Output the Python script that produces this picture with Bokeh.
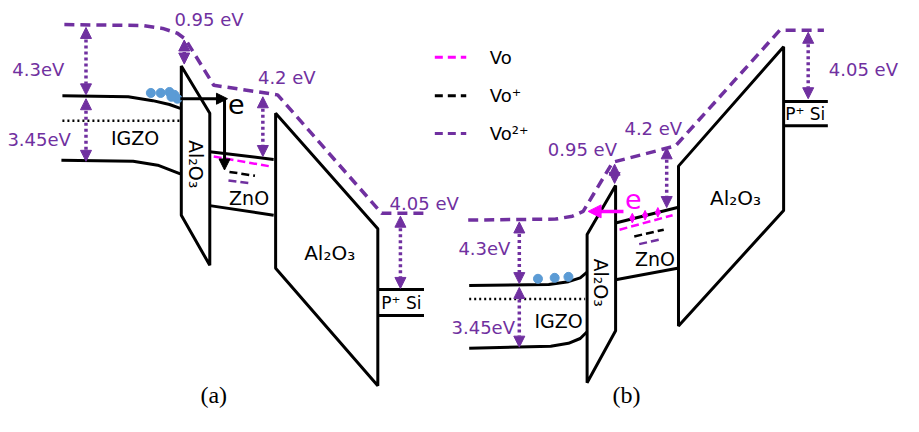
import math
from bokeh.plotting import figure
from bokeh.models import Range1d, Arrow, NormalHead, ColumnDataSource
from bokeh.core.properties import value
from bokeh.embed import file_html
from bokeh.resources import INLINE

PURPLE = "#7030a0"
MAGENTA = "#ff00ff"
BLUE = "#5b9bd5"

# ---------------- panel (a) ----------------
vac_a_x = [65, 145, 165, 180, 188, 217, 282, 388, 432]
vac_a_y = [25, 26, 29, 34, 40, 88, 98, 221, 221]
cb_a_x = [63, 130, 155, 172, 183]
cb_a_y = [99, 100, 104, 108, 112]
vb_a_x = [62, 135, 160, 183]
vb_a_y = [166, 167, 171, 180]
ef_a_x = [63, 183]
ef_a_y = [125, 125]
barrier_a_x = [184, 213, 213, 184]
barrier_a_y = [68, 117, 275, 223]
zno_a_top_x = [213, 278]
zno_a_top_y = [157, 165]
zno_a_bot_x = [213, 278]
zno_a_bot_y = [213, 223]
oxide_a_x = [280, 384, 384, 280]
oxide_a_y = [117, 237, 400, 278]
psi_a_x = [384, 431]
psi_a_y1 = [300, 300]
psi_a_y2 = [327, 327]
dots_a_x = [153, 163, 172, 177, 180, 174]
dots_a_y = [96, 96, 95, 98, 102, 100]
vo_a_x = [217, 273]
vo_a_y = [162, 172]
vop_a_x = [233, 259]
vop_a_y = [178, 182]
vopp_a_x = [232, 255]
vopp_a_y = [187, 190]

# ---------------- panel (b) ----------------
vac_b_x = [476, 565, 582, 593, 623, 687, 793, 838]
vac_b_y = [228, 227, 224, 219, 168, 151, 31, 31]
cb_b_x = [477, 558, 578, 590, 597]
cb_b_y = [296, 295, 292, 288, 282]
vb_b_x = [477, 560, 578, 590, 597]
vb_b_y = [361, 359, 356, 351, 344]
ef_b_x = [477, 595]
ef_b_y = [310, 310]
barrier_b_x = [597, 626, 626, 597]
barrier_b_y = [243, 192, 343, 397]
zno_b_top_x = [626, 689]
zno_b_top_y = [231, 215]
zno_b_bot_x = [626, 689]
zno_b_bot_y = [290, 278]
oxide_b_x = [690, 797, 797, 690]
oxide_b_y = [172, 48, 218, 338]
psi_b_x = [797, 842]
psi_b_y1 = [105, 105]
psi_b_y2 = [130, 130]
dots_b_x = [547, 564, 578]
dots_b_y = [289, 288, 287]
vo_b_x = [630, 684]
vo_b_y = [238, 223]
vop_b_x = [645, 675]
vop_b_y = [245, 238]
vopp_b_x = [650, 672]
vopp_b_y = [253, 248]

# energy arrows (double headed, dotted)
gap_x0 = [87, 87, 187, 267, 407, 528, 528, 625, 678, 822]
gap_y0 = [28, 102, 41, 100, 224, 230, 298, 170, 153, 33]
gap_x1 = [87, 87, 187, 267, 407, 528, 528, 625, 678, 822]
gap_y1 = [98, 167, 66, 162, 299, 294, 360, 190, 215, 102]

# purple labels
elabels = ["0.95 eV", "4.3eV", "3.45eV", "4.2 eV", "4.05 eV",
           "0.95 eV", "4.3eV", "3.45eV", "4.2 eV", "4.05 eV"]
elabel_x = [177, 12, 7, 262, 396, 557, 466, 459, 635, 843]
elabel_y = [20, 72, 144, 80, 211, 155, 258, 340, 133, 72]

# black labels
blabels = ["IGZO", "ZnO", "Al\u2082O\u2083", "P\u207a Si",
           "IGZO", "ZnO", "Al\u2082O\u2083", "P\u207a Si"]
blabel_x = [137, 253, 335, 408, 568, 666, 748, 819]
blabel_y = [143, 205, 262, 314, 333, 268, 205, 118]
blabel_size = ["19px", "19px", "20px", "17px", "19px", "19px", "20px", "17px"]

rot_x = [199, 611]
rot_y = [170, 293]

legend_labels = ["Vo", "Vo\u207a", "Vo\u00b2\u207a"]
legend_colors = [MAGENTA, "black", PURPLE]
legend_y = [59, 99, 138]

panel_labels = ["(a)", "(b)"]
panel_x = [217, 637]
panel_y = [410, 410]

p = figure(width=903, height=416, x_range=Range1d(0, 919), y_range=Range1d(432, 0),
           output_backend="svg", toolbar_location=None, min_border=0)
p.axis.visible = False
p.grid.visible = False
p.outline_line_color = None
p.background_fill_color = "white"

LW = 3

# shapes
p.patches([barrier_a_x, oxide_a_x, barrier_b_x, oxide_b_x],
          [barrier_a_y, oxide_a_y, barrier_b_y, oxide_b_y],
          fill_color="white", line_color="black", line_width=LW)

p.multi_line([cb_a_x, vb_a_x, zno_a_top_x, zno_a_bot_x, psi_a_x, psi_a_x,
              cb_b_x, vb_b_x, zno_b_top_x, zno_b_bot_x, psi_b_x, psi_b_x],
             [cb_a_y, vb_a_y, zno_a_top_y, zno_a_bot_y, psi_a_y1, psi_a_y2,
              cb_b_y, vb_b_y, zno_b_top_y, zno_b_bot_y, psi_b_y1, psi_b_y2],
             line_color="black", line_width=LW)

p.multi_line([ef_a_x, ef_b_x], [ef_a_y, ef_b_y], line_color="black",
             line_width=2.5, line_dash="2 3")

# vacuum levels
p.line(vac_a_x, vac_a_y, line_color=PURPLE, line_width=3.5, line_dash="10 6")
p.line(vac_b_x, vac_b_y, line_color=PURPLE, line_width=3.5, line_dash="10 6")

# defect levels
for xs, ys, c in [(vo_a_x, vo_a_y, MAGENTA), (vop_a_x, vop_a_y, "black"), (vopp_a_x, vopp_a_y, PURPLE),
                  (vo_b_x, vo_b_y, MAGENTA), (vop_b_x, vop_b_y, "black"), (vopp_b_x, vopp_b_y, PURPLE)]:
    p.line(xs, ys, line_color=c, line_width=2.5, line_dash="8 4")

# electrons
p.scatter(dots_a_x + dots_b_x, dots_a_y + dots_b_y, size=9, fill_color=BLUE,
          line_color=BLUE)

# energy arrows
gsrc = ColumnDataSource(dict(x0=gap_x0, y0=gap_y0, x1=gap_x1, y1=gap_y1))
p.add_layout(Arrow(source=gsrc, x_start="x0", y_start="y0", x_end="x1", y_end="y1",
                   line_color=PURPLE, line_width=3.5, line_dash="3 3",
                   start=NormalHead(size=11, fill_color=PURPLE, line_color=PURPLE, line_width=1),
                   end=NormalHead(size=11, fill_color=PURPLE, line_color=PURPLE, line_width=1)))

# electron path (a)
ea_x0 = [183, 228]
ea_y0 = [102, 102]
ea_x1 = [231, 228]
ea_y1 = [102, 176]
esrc = ColumnDataSource(dict(x0=ea_x0, y0=ea_y0, x1=ea_x1, y1=ea_y1))
p.add_layout(Arrow(source=esrc, x_start="x0", y_start="y0", x_end="x1", y_end="y1",
                   line_color="black", line_width=3,
                   end=NormalHead(size=11, fill_color="black", line_color="black", line_width=1)))

# electron path (b)
eb_x0 = [634]
eb_y0 = [219]
eb_x1 = [598]
eb_y1 = [219]
bsrc = ColumnDataSource(dict(x0=eb_x0, y0=eb_y0, x1=eb_x1, y1=eb_y1))
p.add_layout(Arrow(source=bsrc, x_start="x0", y_start="y0", x_end="x1", y_end="y1",
                   line_color=MAGENTA, line_width=3.5,
                   end=NormalHead(size=13, fill_color=MAGENTA, line_color=MAGENTA, line_width=1)))

# tunnelling marks (b)
tm_x = [643, 656, 669]
tm_y0 = [221, 218, 215]
tm_y1 = [231, 228, 225]
tsrc = ColumnDataSource(dict(x0=tm_x, y0=tm_y0, x1=tm_x, y1=tm_y1))
p.add_layout(Arrow(source=tsrc, x_start="x0", y_start="y0", x_end="x1", y_end="y1",
                   line_color=MAGENTA, line_width=2,
                   start=NormalHead(size=5, fill_color=MAGENTA, line_color=MAGENTA, line_width=1),
                   end=NormalHead(size=5, fill_color=MAGENTA, line_color=MAGENTA, line_width=1)))

FONT = value("DejaVu Sans")

p.text(elabel_x, elabel_y, text=elabels, text_color=PURPLE, text_font=FONT,
       text_font_size="18px", text_align="left", text_baseline="middle")

p.text(blabel_x, blabel_y, text=blabels, text_color="black", text_font=FONT,
       text_font_size=blabel_size, text_align="center", text_baseline="middle")

p.text(rot_x, rot_y, text=["Al\u2082O\u2083"] * 2, angle=-math.pi / 2, text_color="black",
       text_font=FONT, text_font_size="19px", text_align="center", text_baseline="middle")

# e labels
p.text([240], [107], text=["e"], text_color="black", text_font=FONT, text_font_size="27px",
       text_align="center", text_baseline="middle")
p.text([644], [206], text=["e"], text_color=MAGENTA, text_font=FONT, text_font_size="27px",
       text_align="center", text_baseline="middle")

# legend
for lab, c, y in zip(legend_labels, legend_colors, legend_y):
    p.line([442, 474], [y, y], line_color=c, line_width=3, line_dash="8 5")
    p.text([498], [y], text=[lab], text_color="black", text_font=FONT,
           text_font_size="18px", text_align="left", text_baseline="middle")

p.text(panel_x, panel_y, text=panel_labels, text_color="black",
       text_font=value("Liberation Serif"), text_font_size="24px",
       text_align="center", text_baseline="middle")

open("out.html", "w").write(file_html(p, INLINE))
